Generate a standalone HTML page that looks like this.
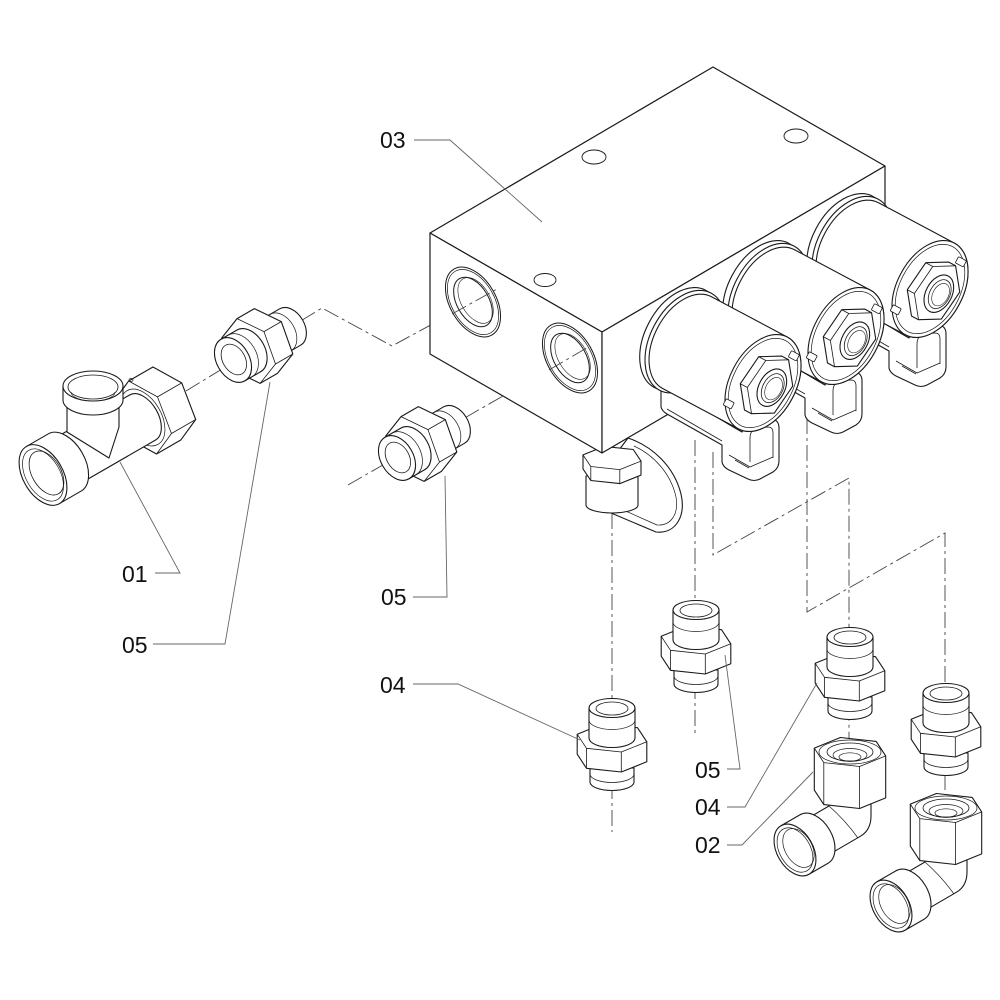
<!DOCTYPE html>
<html><head><meta charset="utf-8">
<style>
html,body{margin:0;padding:0;background:#fff;}
svg{display:block;}
text{font-family:"Liberation Sans",Arial,sans-serif;font-size:23px;fill:#111;}
</style></head><body>
<svg width="1000" height="1000" viewBox="0 0 1000 1000" xmlns="http://www.w3.org/2000/svg">
<defs>
 <g id="vnip" stroke="#1a1a1a" stroke-width="1.1" stroke-linejoin="round">
  <path fill="#fff" d="M-22,60 L-22,74 A22,8.5 0 0 0 22,74 L22,60 Z"/>
  <path fill="none" stroke-width="0.7" d="M-22,66 A22,8.5 0 0 0 22,66"/>
  <path fill="#fff" d="M-34.8,26.2 L-9.3,16 L25.5,19.7 L34.8,33.8 L34.8,53.8 L9.3,64 L-25.5,60.3 L-34.8,46.2 Z"/>
  <path fill="none" stroke-width="0.8" d="M-34.8,26.2 L-25.5,40.3 L9.3,44 L34.8,33.8 M-25.5,40.3 L-25.5,60.3 M9.3,44 L9.3,64"/>
  <path fill="#fff" d="M-23,0 L-23,30 A23,9.5 0 0 0 23,30 L23,0 Z"/>
  <path fill="none" stroke-width="0.7" d="M-23,12 A23,9.5 0 0 0 23,12"/>
  <ellipse fill="#fff" cx="0" cy="0" rx="23" ry="9.5"/>
  <ellipse fill="none" stroke-width="0.8" cx="0" cy="0.5" rx="16" ry="6.5"/>
 </g>
 <g id="elb" stroke="#1a1a1a" stroke-width="1.1" stroke-linejoin="round">
  <path fill="#fff" d="M-21,45 L-21,56 L-46.5,70.8 L-25.5,107.2 L10.5,86.2 Q21,80 21,66 L21,45 Z"/>
  <path fill="none" stroke-width="0.7" d="M-21,56 Q-5,70 8,88"/>
  <g transform="translate(-55,100) rotate(-120)">
   <path fill="#fff" d="M-28,0 L-28,22 A28,18 0 0 0 28,22 L28,0 Z"/>
   <ellipse fill="#fff" cx="0" cy="0" rx="28" ry="18"/>
   <ellipse fill="none" stroke-width="0.7" cx="0" cy="0" rx="24" ry="15.4"/>
   <ellipse fill="none" stroke-width="0.7" cx="0" cy="4" rx="21" ry="13.5"/>
  </g>
  <path fill="#fff" d="M-35.7,-1.9 L-9.6,-12.5 L26.2,-8.6 L35.7,5.9 L35.7,47.9 L9.6,58.5 L-26.2,54.6 L-35.7,40.1 Z"/>
  <path fill="none" stroke-width="0.8" d="M-35.7,-1.9 L-26.2,12.6 L9.6,16.5 L35.7,5.9 M-26.2,12.6 L-26.2,54.6 M9.6,16.5 L9.6,58.5"/>
  <ellipse fill="none" stroke-width="0.7" cx="0" cy="2" rx="31" ry="12"/>
  <ellipse fill="none" stroke-width="0.8" cx="0" cy="2" rx="23" ry="9"/>
  <ellipse fill="none" stroke-width="0.7" cx="0" cy="5" rx="17" ry="6.5"/>
  <ellipse fill="none" stroke-width="0.7" cx="0" cy="7" rx="11" ry="4.2"/>
 </g>
 <g id="hnip" stroke="#1a1a1a" stroke-width="1.1" stroke-linejoin="round">
  <path fill="#fff" d="M-21,44 L-21,66 A21,14.3 0 0 0 21,66 L21,44 Z"/>
  <path fill="none" stroke-width="0.7" d="M-21,55 A21,14.3 0 0 0 21,55"/>
  <path fill="#fff" d="M-33.8,11.8 L-9.1,-5 L24.7,1.2 L33.8,24.2 L33.8,44.2 L9.1,61 L-24.7,54.8 L-33.8,31.8 Z"/>
  <path fill="none" stroke-width="0.8" d="M-33.8,11.8 L-24.7,34.8 L9.1,41 L33.8,24.2 M-24.7,34.8 L-24.7,54.8 M9.1,41 L9.1,61"/>
  <path fill="#fff" d="M-24,0 L-24,18 A24,16.3 0 0 0 24,18 L24,0 Z"/>
  <path fill="none" stroke-width="0.7" d="M-24,8 A24,16.3 0 0 0 24,8"/>
  <ellipse fill="#fff" cx="0" cy="0" rx="24" ry="16.3"/>
  <ellipse fill="none" stroke-width="0.8" cx="0" cy="1" rx="16.5" ry="11.2"/>
 </g>
 <g id="sol" stroke="#1a1a1a" stroke-width="1.1" stroke-linejoin="round">
  <ellipse fill="#fff" cx="0" cy="-94" rx="55" ry="35"/>
  <ellipse fill="#fff" cx="0" cy="-88" rx="55" ry="35"/>
  <path fill="#fff" d="M-52,-86 L-52,0 A52,33 0 0 0 52,0 L52,-86 A52,33 0 0 0 -52,-86 Z"/>
  <ellipse fill="#fff" cx="0" cy="0" rx="52" ry="33"/>
  <ellipse fill="none" stroke-width="0.7" cx="0" cy="0" rx="48" ry="30"/>
  <rect fill="#fff" stroke-width="0.8" x="-38" y="-25" width="7" height="9" rx="1"/>
  <rect fill="#fff" stroke-width="0.8" x="35" y="10" width="7" height="9" rx="1"/>
  <path fill="#fff" d="M32.5,11.7 L11.3,27.7 L-21.2,24.1 L-32.5,4.3 L-32.5,-3.7 L-11.3,-19.7 L21.2,-16.1 L32.5,3.7 Z"/>
  <path fill="none" stroke-width="0.8" d="M-32.5,4.3 L-11.3,-11.7 L21.2,-8.1 L32.5,11.7 M-11.3,-11.7 L-11.3,-19.7 M21.2,-8.1 L21.2,-16.1"/>
  <ellipse fill="#fff" cx="0" cy="10" rx="20" ry="13"/>
  <ellipse fill="none" stroke-width="0.8" cx="0" cy="11" rx="15.5" ry="10"/>
  <ellipse fill="none" stroke-width="0.6" cx="0" cy="12" rx="12" ry="7.8"/>
 </g>
 <g id="conn" stroke="#1a1a1a" stroke-width="1.1" stroke-linejoin="round">
  <path fill="#fff" d="M661,384 L661,407 Q662,411 667,414 L722,445 L722,462 Q723,467 729,470 L748,479 Q754,482 760,479 L773,472 Q779,468 779,461 L779,428 Q779,419 770,419 L753,419 Q747,419 745,425 L742,432 L735,428 Z"/>
  <path fill="none" stroke-width="0.8" d="M750,462 L750,438 Q750,430 757,428 L768,427 Q773,427 773,433 L773,458 M729,455 L750,467 L773,457 M735,460 L749,468 M667,409 L722,441"/>
 </g>
</defs>

<!-- center lines -->
<g fill="none" stroke="#444" stroke-width="0.9" stroke-dasharray="16 4 3 4">
 <path d="M186,391 L322,308 L392,346 L497,289"/>
 <path d="M348,485 L590,346"/>
 <path d="M612,513 L612,832"/>
 <path d="M695,440 L695,735"/>
 <path d="M713,452 L713,555 L849,478 L849,768"/>
 <path d="M807,418 L807,612 L945,533 L945,818"/>
</g>

<!-- swivel under block -->
<g stroke="#1a1a1a" stroke-width="1.1" stroke-linejoin="round">
 <path fill="#fff" d="M628,438 C652,446 674,466 681,494 C686,516 676,534 656,532 L604,510 L604,470 Z"/>
 <path fill="none" stroke-width="0.7" d="M634,446 C654,455 671,474 676,497 C679,514 671,526 657,525 L612,505"/>
 <path fill="#fff" d="M586,476 L586,505 A26,8 0 0 0 638,505 L638,476 Z"/>
 <path fill="#fff" d="M583,454.9 L604.2,446.4 L633.2,449.5 L641,461.1 L641,475.1 L619.8,483.6 L590.8,480.5 L583,468.9 Z"/>
 <path fill="none" stroke-width="0.8" d="M583,454.9 L590.8,466.5 L619.8,469.6 L641,461.1 M590.8,466.5 L590.8,480.5 M619.8,469.6 L619.8,483.6"/>
</g>

<!-- main block -->
<g stroke="#1a1a1a" stroke-width="1.2" stroke-linejoin="round">
 <path fill="#fff" d="M430,233 L713,67 L885,166 L602,332 Z"/>
 <path fill="#fff" d="M430,233 L602,332 L602,453 L430,354 Z"/>
 <path fill="#fff" d="M602,332 L885,166 L885,287 L602,453 Z"/>
 <ellipse fill="none" stroke-width="0.9" cx="594" cy="157" rx="12" ry="7"/>
 <ellipse fill="none" stroke-width="0.9" cx="796" cy="136" rx="12" ry="7"/>
 <ellipse fill="none" stroke-width="0.9" cx="545" cy="280" rx="11" ry="6.5"/>
 <g transform="translate(473,302) rotate(60)" fill="none">
  <ellipse rx="38" ry="23" stroke-width="1"/>
  <ellipse rx="35.5" ry="21.3" stroke-width="0.7"/>
  <ellipse rx="27" ry="16" stroke-width="1"/>
  <ellipse cy="-3" rx="25" ry="14.5" stroke-width="0.6"/>
 </g>
 <g transform="translate(570,358) rotate(60)" fill="none">
  <ellipse rx="38" ry="23" stroke-width="1"/>
  <ellipse rx="35.5" ry="21.3" stroke-width="0.7"/>
  <ellipse rx="27" ry="16" stroke-width="1"/>
  <ellipse cy="-3" rx="25" ry="14.5" stroke-width="0.6"/>
 </g>
</g>
<g fill="none" stroke="#444" stroke-width="0.9" stroke-dasharray="16 4 3 4">
 <path d="M452,314 L497,289"/>
 <path d="M549,370 L590,346"/>
</g>

<!-- solenoids -->
<use href="#conn" transform="translate(167,-94)"/>
<use href="#sol" transform="translate(930,289) rotate(-62)"/>
<use href="#conn" transform="translate(83,-47)"/>
<use href="#sol" transform="translate(846,336) rotate(-62)"/>
<use href="#conn"/>
<use href="#sol" transform="translate(763,383) rotate(-62)"/>

<!-- tee 01 -->
<g stroke="#1a1a1a" stroke-width="1.1" stroke-linejoin="round">
 <g transform="translate(43,475) rotate(-120)">
  <path fill="#fff" d="M-38.6,108.8 L-10.4,91.8 L28.3,98 L38.6,121.2 L38.6,149.2 L10.4,166.2 L-28.3,160 L-38.6,136.8 Z"/>
  <path fill="none" stroke-width="0.8" d="M-38.6,108.8 L-28.3,132 L10.4,138.2 L38.6,121.2 M-28.3,132 L-28.3,160 M10.4,138.2 L10.4,166.2"/>
  <ellipse fill="none" stroke-width="0.7" cx="0" cy="115" rx="31" ry="18.6"/>
  <path fill="#fff" d="M-26,20 L-26,115 A26,15.6 0 0 0 26,115 L26,20 Z"/>
  <path fill="#fff" d="M-33,0 L-33,25 A33,20 0 0 0 33,25 L33,0 Z"/>
  <ellipse fill="#fff" cx="0" cy="0" rx="33" ry="20"/>
  <ellipse fill="none" stroke-width="0.7" cx="0" cy="0" rx="28.5" ry="17"/>
  <ellipse fill="none" stroke-width="0.8" cx="0" cy="4" rx="24" ry="14.5"/>
 </g>
 <ellipse fill="none" stroke-width="0.7" cx="131" cy="380" rx="2" ry="1.5"/>
 <path fill="#fff" d="M67,398 L67,432 L109,458 L119,427 L119,398 Z"/>
 <path fill="#fff" d="M63,386 L63,400 A30,15 0 0 0 123,400 L123,386 Z"/>
 <ellipse fill="#fff" cx="93" cy="386" rx="30" ry="15"/>
 <ellipse fill="none" stroke-width="0.8" cx="93" cy="387" rx="25" ry="12"/>
 <path fill="none" stroke-width="0.6" d="M71,392 A22,9 0 0 0 115,392"/>
</g>

<!-- horizontal nipples 05 -->
<use href="#hnip" transform="translate(233,360) rotate(-120)"/>
<use href="#hnip" transform="translate(397,458) rotate(-120)"/>

<!-- vertical fittings -->
<use href="#vnip" transform="translate(696,610)"/>
<use href="#vnip" transform="translate(612,708)"/>
<use href="#vnip" transform="translate(850,637)"/>
<use href="#vnip" transform="translate(946,693)"/>
<use href="#elb" transform="translate(850,750)"/>
<use href="#elb" transform="translate(946,806)"/>

<!-- leaders -->
<g fill="none" stroke="#666" stroke-width="0.9">
 <path d="M414,140 L450,140 L542,222"/>
 <path d="M155,573 L180,573 L120,462"/>
 <path d="M153,644 L225,644 L270,382"/>
 <path d="M413,597 L447,597 L445,476"/>
 <path d="M413,684 L458,684 L580,740"/>
 <path d="M727,769 L740,769 L725,655"/>
 <path d="M727,807 L745,807 L817,683"/>
 <path d="M727,845 L742,845 L813,772"/>
</g>

<!-- labels -->
<text x="380" y="148">03</text>
<text x="122" y="582">01</text>
<text x="122" y="653">05</text>
<text x="381" y="605">05</text>
<text x="380" y="693">04</text>
<text x="695" y="778">05</text>
<text x="695" y="815">04</text>
<text x="695" y="853">02</text>
</svg>
</body></html>
